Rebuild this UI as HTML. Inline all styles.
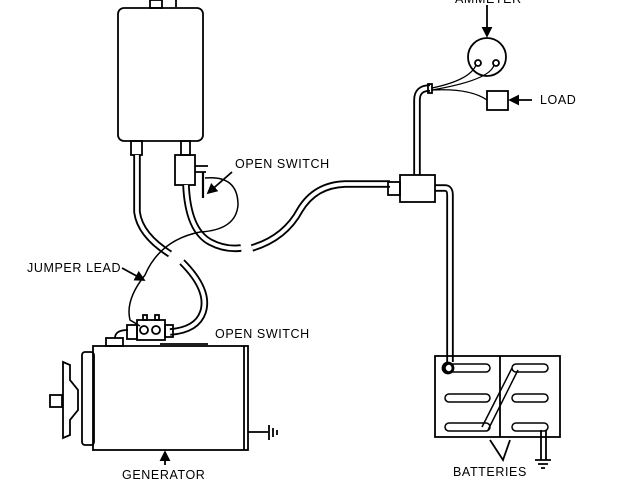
<!DOCTYPE html>
<html><head><meta charset="utf-8"><style>
html,body{margin:0;padding:0;background:#fff;}
svg{display:block;}
text{font-family:"Liberation Sans",sans-serif;font-size:12.5px;fill:#000;letter-spacing:0.6px;}
</style></head><body>
<svg width="640" height="480" viewBox="0 0 640 480" xmlns="http://www.w3.org/2000/svg" fill="none" stroke="#000" stroke-width="1.8">
<defs><marker id="ah" markerWidth="6" markerHeight="6" refX="5" refY="3" orient="auto"><path d="M0 0 L6 3 L0 6 Z" fill="#000" stroke="none"/></marker></defs>
<!-- regulator -->
<rect x="118" y="8" width="85" height="133" rx="6"/>
<rect x="150" y="0" width="12" height="8"/>
<line x1="176" y1="0" x2="176" y2="7"/>
<rect x="131" y="141" width="11" height="14"/>
<rect x="181" y="141" width="9" height="14"/>
<rect x="175" y="155" width="20" height="30"/>
<path d="M195 166 H208 M195 172 H206"/>
<path d="M203 172 V198" stroke-width="2.2"/>
<!-- tubes -->
<g stroke-linecap="butt">
<path d="M137 155 V212 Q140 235 170 254" stroke-width="7.5"/>
<path d="M137 155 V212 Q140 235 170 254" stroke="#fff" stroke-width="3.8"/>
<path d="M182 262 Q210 290 203 312 Q197 330 170 332" stroke-width="7.5"/>
<path d="M182 262 Q210 290 203 312 Q197 330 170 332" stroke="#fff" stroke-width="3.8"/>
<path d="M186 185 Q188 230 210 242 Q225 250 241 248" stroke-width="7.5"/>
<path d="M186 185 Q188 230 210 242 Q225 250 241 248" stroke="#fff" stroke-width="3.8"/>
<path d="M252 248 Q285 238 300 210 Q315 185 345 184 H390" stroke-width="7.5"/>
<path d="M252 248 Q285 238 300 210 Q315 185 345 184 H390" stroke="#fff" stroke-width="3.8"/>
<path d="M435 188 H445 Q450 188 450 195 V362" stroke-width="7.5"/>
<path d="M435 188 H445 Q450 188 450 195 V362" stroke="#fff" stroke-width="3.8"/>
<path d="M417 175 V100 Q417 88 430 88" stroke-width="7.5"/>
<path d="M417 175 V100 Q417 88 430 88" stroke="#fff" stroke-width="3.8"/>
</g>
<!-- jumper lead -->
<path d="M205 178 Q238 175 238 205 Q236 230 200 232 Q160 240 145 275 Q125 300 130 320 L140 326" stroke-width="1.5"/>
<!-- leaders -->
<line x1="232" y1="172" x2="208" y2="193" marker-end="url(#ah)"/>
<line x1="122" y1="268" x2="144" y2="280" marker-end="url(#ah)"/>
<line x1="160" y1="344" x2="208" y2="344"/>
<!-- generator -->
<rect x="93" y="346" width="155" height="104"/>
<line x1="244" y1="346" x2="244" y2="450"/>
<rect x="82" y="352" width="12" height="93" rx="3"/>
<path d="M63 362 L70 365 L70 380 L78 390 V410 L70 420 V435 L63 438 Z"/>
<rect x="50" y="395" width="12" height="12"/>
<rect x="106" y="338" width="17" height="8"/>
<path d="M115 338 Q115 330 128 330"/>
<rect x="127" y="325" width="10" height="14"/>
<rect x="137" y="320" width="28" height="20"/>
<circle cx="144" cy="330" r="4"/><circle cx="156" cy="330" r="4"/>
<rect x="143" y="315" width="4" height="5"/><rect x="155" y="315" width="4" height="5"/>
<rect x="165" y="325" width="8" height="12"/>
<path d="M248 432 H268 M269 425 V440 M273 428 V437 M277 430 V435"/>
<line x1="165" y1="465" x2="165" y2="452" marker-end="url(#ah)"/>
<!-- ammeter -->
<circle cx="487" cy="57" r="19"/>
<circle cx="478" cy="63" r="3"/><circle cx="496" cy="63" r="3"/>
<line x1="487" y1="5" x2="487" y2="36" marker-end="url(#ah)"/>
<path d="M476 65 Q470 80 432 88 M494 65 Q490 80 432 90 M432 90 Q470 88 487 100" stroke-width="1.3"/>
<rect x="428" y="84" width="4" height="9"/>
<rect x="487" y="91" width="21" height="19"/>
<line x1="532" y1="100" x2="510" y2="100" marker-end="url(#ah)"/>
<!-- connector -->
<rect x="400" y="175" width="35" height="27"/>
<rect x="388" y="182" width="12" height="13"/>
<!-- batteries -->
<rect x="435" y="356" width="125" height="81"/>
<line x1="500" y1="356" x2="500" y2="437"/>
<g stroke-width="1.5">
<rect x="445" y="364" width="45" height="8" rx="4"/>
<rect x="445" y="394" width="45" height="8" rx="4"/>
<rect x="445" y="423" width="45" height="8" rx="4"/>
<rect x="512" y="364" width="36" height="8" rx="4"/>
<rect x="512" y="394" width="36" height="8" rx="4"/>
<rect x="512" y="423" width="36" height="8" rx="4"/>
<path d="M482 427 L512 368 M488 430 L518 370"/>
</g>
<circle cx="448" cy="368" r="5" stroke-width="2.8"/>
<path d="M541 430 V460 M546 430 V460 M535 460 H551 M538 464 H548 M541 468 H545"/>
<path d="M490 440 L503 460 L510 440"/>
</g>
<text x="235" y="168" stroke="none">OPEN SWITCH</text>
<text x="215" y="338" stroke="none">OPEN SWITCH</text>
<text x="27" y="272" stroke="none">JUMPER LEAD</text>
<text x="122" y="479" stroke="none">GENERATOR</text>
<text x="455" y="3" stroke="none">AMMETER</text>
<text x="540" y="104" stroke="none">LOAD</text>
<text x="453" y="476" stroke="none">BATTERIES</text>
</svg>
</body></html>
